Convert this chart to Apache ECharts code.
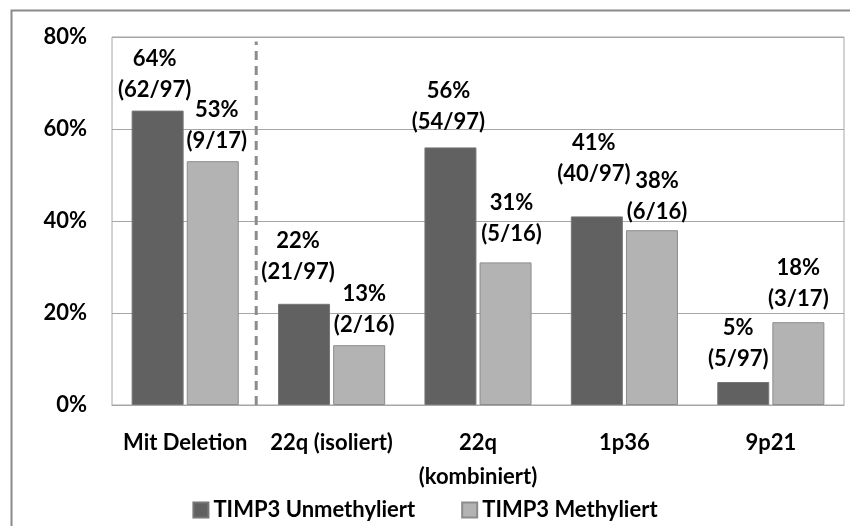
<!DOCTYPE html>
<html>
<head>
<meta charset="utf-8">
<script src="https://cdn.jsdelivr.net/npm/echarts@6/dist/echarts.min.js"></script>
<style>
html,body{margin:0;padding:0;background:#fff;}
#chart{width:850px;height:526px;}
</style>
</head>
<body>
<div id="chart"></div>
<script>
// ---- data ----
const categories = ['Mit Deletion', '22q (isoliert)', '22q\n(kombiniert)', '1p36', '9p21'];
const unmethPct = [64, 22, 56, 41, 5];
const unmethFrac = ['62/97', '21/97', '54/97', '40/97', '5/97'];
const methPct = [53, 13, 31, 38, 18];
const methFrac = ['9/17', '2/16', '5/16', '6/16', '3/17'];
const yTicks = [0, 20, 40, 60, 80];
const separatorX = [0.985, 0.985];   // boundary between category 0 and 1 (hidden value axis, 0..5)
const separatorY = [0, 79];

// ---- label placement tweaks (manual positions in original) ----
const unmethLabelOffset = [[-3, 0], [-6, -11], [-2, -5], [-3, -22], [-5, -3]];
const methLabelOffset = [[4, 0], [5, 0], [6, -8], [5, 2], [0, -3]];

const FONT = 'Lato';
const chart = echarts.init(document.getElementById('chart'));

function items(pct, offs) {
  return pct.map((v, i) => ({ value: v, label: { offset: offs[i] } }));
}

const labelStyle = {
  show: true,
  position: 'top',
  distance: 5,
  color: '#000',
  fontFamily: FONT,
  fontWeight: 'bold',
  fontSize: 22,
  lineHeight: 31,
  align: 'center'
};

chart.setOption({
  animation: false,
  backgroundColor: '#fff',
  textStyle: { fontFamily: FONT },
  graphic: [{
    type: 'rect',
    left: 9, top: 8,
    shape: { x: 0, y: 0, width: 880, height: 560 },
    style: { fill: 'none', stroke: '#8a8a8a', lineWidth: 2 },
    silent: true
  }],
  grid: {
    left: 112, top: 37, right: 6, bottom: 121,
    show: true, borderColor: '#a6a6a6', borderWidth: 1
  },
  legend: {
    data: ['TIMP3 Unmethyliert', 'TIMP3 Methyliert'],
    top: 494,
    left: 'center',
    itemWidth: 15,
    itemHeight: 15,
    itemGap: 46,
    icon: 'rect',
    textStyle: { fontFamily: FONT, fontWeight: 'bold', fontSize: 22, color: '#000' }
  },
  xAxis: [{
    type: 'category',
    data: categories,
    axisLine: { show: true, lineStyle: { color: '#a6a6a6', width: 1 } },
    axisTick: { show: false },
    axisLabel: {
      interval: 0,
      margin: 21,
      color: '#000',
      fontFamily: FONT,
      fontWeight: 'bold',
      fontSize: 22,
      lineHeight: 34
    }
  }, {
    type: 'value',
    min: 0, max: 5,
    show: false
  }],
  yAxis: {
    type: 'value',
    min: yTicks[0],
    max: yTicks[yTicks.length - 1],
    interval: 20,
    axisLine: { show: false },
    axisTick: { show: false },
    splitLine: { lineStyle: { color: '#a6a6a6', width: 1 } },
    axisLabel: {
      margin: 25,
      formatter: '{value}%',
      color: '#000',
      fontFamily: FONT,
      fontWeight: 'bold',
      fontSize: 22
    }
  },
  series: [{
    name: 'TIMP3 Unmethyliert',
    type: 'bar',
    barWidth: 52,
    barGap: '6%',
    data: items(unmethPct, unmethLabelOffset),
    itemStyle: { color: '#616161', borderColor: '#777777', borderWidth: 1 },
    label: Object.assign({}, labelStyle, {
      formatter: p => p.value + '%\n(' + unmethFrac[p.dataIndex] + ')'
    })
  }, {
    name: 'TIMP3 Methyliert',
    type: 'bar',
    barWidth: 52,
    barGap: '6%',
    data: items(methPct, methLabelOffset),
    itemStyle: { color: '#b3b3b3', borderColor: '#8c8c8c', borderWidth: 1 },
    label: Object.assign({}, labelStyle, {
      formatter: p => p.value + '%\n(' + methFrac[p.dataIndex] + ')'
    })
  }, {
    name: 'separator',
    type: 'line',
    xAxisIndex: 1,
    silent: true,
    symbol: 'none',
    data: separatorX.map((x, i) => [x, separatorY[i]]),
    lineStyle: { color: '#8c8c8c', width: 3, type: [9, 6] }
  }]
});
</script>
</body>
</html>
